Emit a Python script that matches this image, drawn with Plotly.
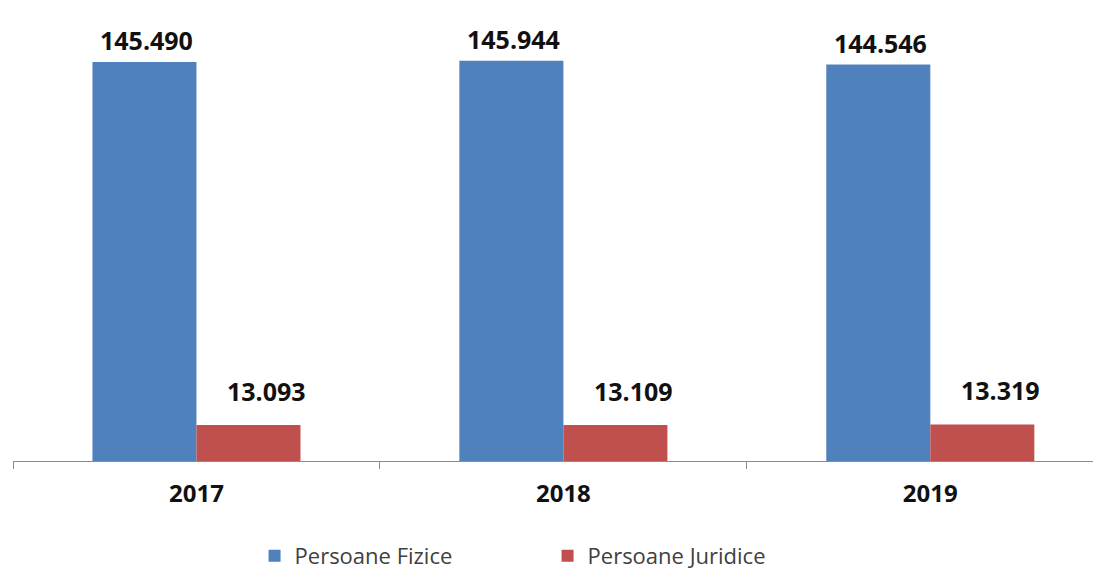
import plotly.graph_objects as go

years = ["2017", "2018", "2019"]
fizice = [145490, 145944, 144546]
juridice = [13093, 13109, 13319]
fizice_labels = ["145.490", "145.944", "144.546"]
juridice_labels = ["13.093", "13.109", "13.319"]

W, H = 1101, 569
fig = go.Figure()
fig.add_trace(go.Bar(
    x=years, y=fizice, name="Persoane Fizice",
    marker=dict(color="#4F81BD", line=dict(width=0)),
    offsetgroup="a",
))
fig.add_trace(go.Bar(
    x=years, y=juridice, name="Persoane Juridice",
    marker=dict(color="#C0504D", line=dict(width=0)),
    offsetgroup="b",
))

lab_font = dict(family="Open Sans", size=25, color="#111111", weight="bold")
half = (1 - 0.433) / 4  # offset of each bar centre within its category
for i, yr in enumerate(years):
    fig.add_annotation(x=i - half, y=fizice[i], xref="x", yref="y",
                       text=fizice_labels[i], showarrow=False, yanchor="middle",
                       yshift=22, xshift=2, font=lab_font)
    fig.add_annotation(x=i + half, y=juridice[i], xref="x", yref="y",
                       text=juridice_labels[i], showarrow=False, yanchor="middle",
                       yshift=34, xshift=18, font=lab_font)

fig.update_layout(
    width=W, height=H,
    margin=dict(l=5, r=0, t=0, b=116),
    paper_bgcolor="white", plot_bgcolor="white",
    barmode="group", bargap=0.433, bargroupgap=0,
    showlegend=True,
    legend=dict(orientation="h", x=0.2204, xanchor="left", y=-0.163, yanchor="top",
                font=dict(family="Open Sans", size=22, color="#404040"),
                entrywidth=248, entrywidthmode="pixels", itemwidth=30),
    xaxis=dict(
        type="category", range=[-0.5, 2.487],
        showline=True, linecolor="#8C8C8C", linewidth=1,
        ticks="outside", tickson="boundaries", ticklen=7, tickcolor="#8C8C8C",
        ticklabelstandoff=11,
        tickfont=dict(family="Open Sans", size=24, color="#111111", weight="bold"),
        showgrid=False, zeroline=False,
    ),
    yaxis=dict(range=[0, 165180], visible=False, showgrid=False, zeroline=False),
)
fig.write_html("out.html")
